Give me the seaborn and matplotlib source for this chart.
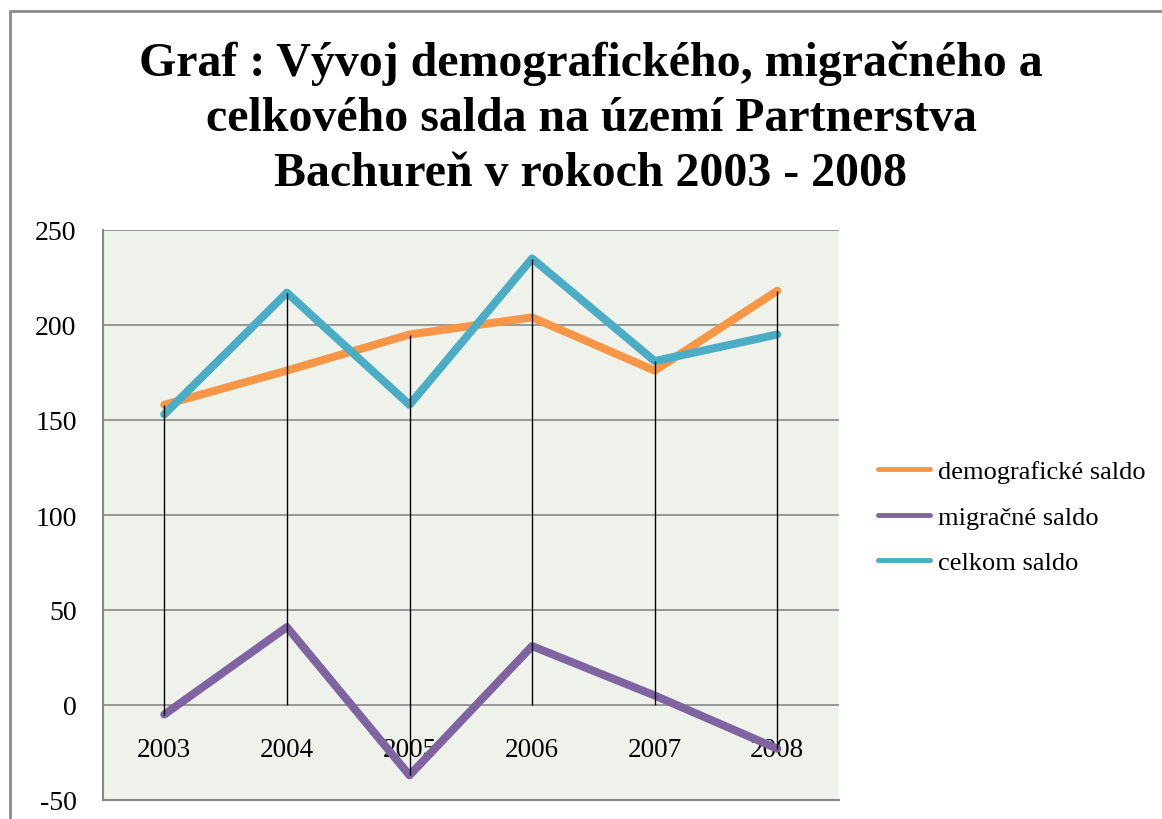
import matplotlib
matplotlib.use('Agg')
import matplotlib.pyplot as plt
import seaborn as sns
import pandas as pd
from matplotlib.patches import Rectangle

# data
years = [2003, 2004, 2005, 2006, 2007, 2008]
demograficke = [158, 176, 195, 204, 176, 218]
migracne = [-5, 41, -37, 31, 5, -23]
celkom = [153, 217, 158, 235, 181, 195]
seriesNames = ['demografické saldo', 'migračné saldo', 'celkom saldo']
colors = ['#F79646', '#8064A2', '#4BACC6']
yTicks = [-50, 0, 50, 100, 150, 200, 250]
title = 'Graf : Vývoj demografického, migračného a\ncelkového salda na území Partnerstva\nBachureň v rokoch 2003 - 2008'

sns.set_theme(style='white')
plt.rcParams['font.family'] = ['Liberation Serif', 'DejaVu Serif']
plt.rcParams['text.color'] = 'black'
plt.rcParams['xtick.color'] = 'black'
plt.rcParams['ytick.color'] = 'black'
plt.rcParams['axes.unicode_minus'] = False

dframe = pd.DataFrame({'rok': years, seriesNames[0]: demograficke,
                       seriesNames[1]: migracne, seriesNames[2]: celkom})
longFrame = dframe.melt(id_vars='rok', var_name='saldo', value_name='hodnota')

W, H = 1162, 820
plotFigure = plt.figure(figsize=(W / 100, H / 100), dpi=100)
ax = plotFigure.add_axes([103 / W, (H - 801) / H, (838.6 - 103) / W, (801 - 231) / H])
ax.set_facecolor('#EFF2EA')

sns.lineplot(data=longFrame, x='rok', y='hodnota', hue='saldo', hue_order=seriesNames,
             palette=colors, linewidth=5.8, ax=ax, sort=False,
             solid_capstyle='round', solid_joinstyle='round', zorder=2)

# drop lines from every point to the category axis
allSeries = [demograficke, migracne, celkom]
low = [min([0] + [s[i] for s in allSeries]) for i in range(len(years))]
high = [max([0] + [s[i] for s in allSeries]) for i in range(len(years))]
ax.vlines(years, low, high, color='black', linewidth=1, zorder=3)

ax.set_xlim(years[0] - 0.5, years[-1] + 0.5)
ax.set_ylim(yTicks[0], yTicks[-1])
ax.set_yticks(yTicks)
ax.yaxis.grid(True, color='#888888', linewidth=1.2, zorder=0)
ax.set_axisbelow(True)
ax.set(xlabel=None, ylabel=None)
ax.tick_params(axis='y', length=0, pad=19, labelsize=20)

for side in ['top', 'right']:
    ax.spines[side].set_visible(False)
for side in ['left', 'bottom']:
    ax.spines[side].set_color('#888888')
    ax.spines[side].set_linewidth(1.5)

# category labels sit just under the zero line
ax.set_xticks([])
secAx = ax.secondary_xaxis(0, transform=ax.transData)
secAx.set_xticks(years)
secAx.set_xticklabels([str(y) for y in years])
secAx.tick_params(axis='x', length=0, pad=23, labelsize=19.5)
secAx.spines['bottom'].set_visible(False)

handles, labels = ax.get_legend_handles_labels()
ax.get_legend().remove()
leg = plotFigure.legend(handles, labels, loc='upper left', bbox_to_anchor=(878 / W, 1 - 461 / H),
                        frameon=False, fontsize=19, handlelength=1.97, handletextpad=0.3,
                        labelspacing=0.83, borderpad=0, borderaxespad=0)
for line in leg.get_lines():
    line.set_linewidth(3.5)

plotFigure.text(591 / W, 1 - 41 / H, title, ha='center', va='top', fontsize=34.5,
                fontweight='bold', linespacing=1.33)

plotFigure.patches.append(Rectangle((10 / W, -0.1), 1.2, (1 - 12 / H) + 0.1,
                                    transform=plotFigure.transFigure, fill=False,
                                    edgecolor='#8c8c8c', linewidth=2))

plotFigure.savefig('out.png', dpi=100)
